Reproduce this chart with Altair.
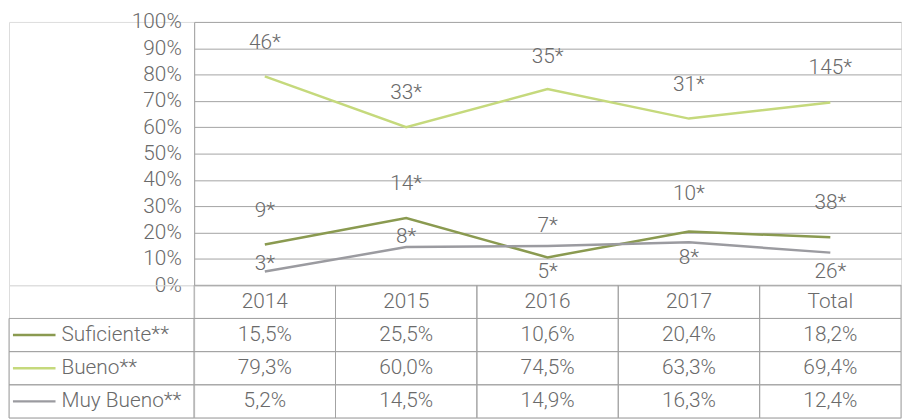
import altair as alt
import pandas as pd

CATEGORIES = ["2014", "2015", "2016", "2017", "Total"]
SERIES = ["Suficiente**", "Bueno**", "Muy Bueno**"]
SUFICIENTE = [15.5, 25.5, 10.6, 20.4, 18.2]
BUENO = [79.3, 60.0, 74.5, 63.3, 69.4]
MUY_BUENO = [5.2, 14.5, 14.9, 16.3, 12.4]
SUFICIENTE_N = ["9*", "14*", "5*", "10*", "38*"]
BUENO_N = ["46*", "33*", "35*", "31*", "145*"]
MUY_BUENO_N = ["3*", "8*", "7*", "8*", "26*"]

# styling: vertical shift (px) of each count label relative to its point
SUFICIENTE_DY = [-34, -34, 15, -38, -35]
BUENO_DY = [-34, -35, -32, -34, -35]
MUY_BUENO_DY = [-8, -10, -20, 16, 20]

COLORS = ["#8a9a50", "#c5d97c", "#9b9ba0"]
TEXT = "#6a6a6a"
GRID = "#a3a3a3"
FONT = "Roboto"
FW = 300
FS = 21

values = [SUFICIENTE, BUENO, MUY_BUENO]
counts = [SUFICIENTE_N, BUENO_N, MUY_BUENO_N]
shifts = [SUFICIENTE_DY, BUENO_DY, MUY_BUENO_DY]

rows = []
for s, vals, labs, dys in zip(SERIES, values, counts, shifts):
    for i, (c, v, l, d) in enumerate(zip(CATEGORIES, vals, labs, dys)):
        rows.append({"series": s, "cat": c, "idx": i, "value": v, "label": l, "dy": d})
df = pd.DataFrame(rows)

PLOT_W = 714
PLOT_H = 266
TABLE_H = 134
LEFT_W = 187

x_enc = alt.X("cat:N", sort=CATEGORIES,
              scale=alt.Scale(domain=CATEGORIES, type="point", padding=0.5), axis=None)
y_enc = alt.Y("value:Q", scale=alt.Scale(domain=[0, 100], nice=False),
              axis=alt.Axis(values=list(range(0, 101, 10)), labelExpr="datum.value + '%'",
                            labelOverlap=False, grid=True, gridColor=GRID, gridWidth=1,
                            domain=True, domainColor=GRID, ticks=False, labelPadding=13,
                            labelFontSize=FS, labelColor=TEXT, labelFont=FONT,
                            labelFontWeight=FW, title=None))
color_enc = alt.Color("series:N", scale=alt.Scale(domain=SERIES, range=COLORS), legend=None)

base = alt.Chart(df)
lines = base.mark_line(strokeWidth=2.5).encode(
    x=x_enc, y=y_enc, color=color_enc, order="idx:Q")

text_layers = []
for d in sorted(df["dy"].unique()):
    text_layers.append(
        base.transform_filter(alt.datum.dy == int(d)).mark_text(
            dy=int(d), fontSize=FS, color=TEXT, font=FONT, fontWeight=FW,
            baseline="middle", align="center"
        ).encode(x=x_enc, y=y_enc, text="label:N")
    )

main = alt.layer(lines, *text_layers).properties(width=PLOT_W, height=PLOT_H)

blank = alt.Chart(pd.DataFrame({"v": [0]})).mark_point(size=0, opacity=0).encode(
    x=alt.value(10), y=alt.value(10)).properties(width=LEFT_W, height=PLOT_H)

ROW_DOMAIN = [" "] + SERIES
row_scale = alt.Scale(domain=ROW_DOMAIN, paddingInner=0, paddingOuter=0)

leg_df = pd.DataFrame({"series": SERIES})
leg_base = alt.Chart(leg_df)
leg_cells = leg_base.mark_rect(fill="white", fillOpacity=0, stroke=GRID, strokeWidth=1).encode(
    x=alt.value(0), x2=alt.value(LEFT_W),
    y=alt.Y("series:N", scale=row_scale, axis=None))
leg_lines = leg_base.mark_rule(strokeWidth=2.5).encode(
    x=alt.value(4), x2=alt.value(47),
    y=alt.Y("series:N", scale=row_scale, axis=None),
    color=color_enc)
leg_text = leg_base.mark_text(align="left", baseline="middle", fontSize=FS, color=TEXT,
                              font=FONT, fontWeight=FW).encode(
    x=alt.value(53), y=alt.Y("series:N", scale=row_scale, axis=None), text="series:N")
legend = alt.layer(leg_cells, leg_lines, leg_text).properties(width=LEFT_W, height=TABLE_H)

cells = []
for c in CATEGORIES:
    cells.append({"row": " ", "cat": c, "txt": c})
for s, vals in zip(SERIES, values):
    for c, v in zip(CATEGORIES, vals):
        cells.append({"row": s, "cat": c, "txt": f"{v:.1f}%".replace(".", ",")})
tdf = pd.DataFrame(cells)
tx = alt.X("cat:N", sort=CATEGORIES,
           scale=alt.Scale(domain=CATEGORIES, paddingInner=0, paddingOuter=0), axis=None)
ty = alt.Y("row:N", scale=row_scale, axis=None)
tbase = alt.Chart(tdf)
t_cells = tbase.mark_rect(fill="white", fillOpacity=0, stroke=GRID, strokeWidth=1).encode(x=tx, y=ty)
t_text = tbase.mark_text(align="center", baseline="middle", fontSize=FS, color=TEXT,
                         font=FONT, fontWeight=FW).encode(x=tx, y=ty, text="txt:N")
table = alt.layer(t_cells, t_text).properties(width=PLOT_W, height=TABLE_H)

chart = alt.concat(blank, main, legend, table, columns=2, spacing=0).properties(
    bounds="flush", align="each", padding=0
).configure_view(stroke=None).configure(background="white")

chart.save("out.html", embed_options={"renderer": "svg", "actions": False})
